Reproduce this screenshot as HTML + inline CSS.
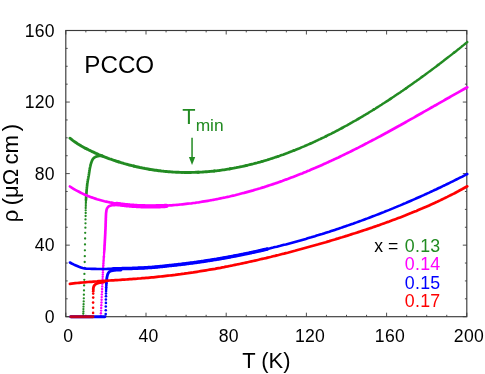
<!DOCTYPE html>
<html><head><meta charset="utf-8"><title>PCCO resistivity</title>
<style>html,body{margin:0;padding:0;background:#fff;}body{width:485px;height:374px;overflow:hidden;position:relative;font-family:"Liberation Sans",sans-serif;}</style></head>
<body>
<svg width="485" height="374" viewBox="0 0 485 374" style="position:absolute;left:0;top:0;will-change:transform">
<rect width="485" height="374" fill="#fff"/>
<rect x="65.8" y="30.5" width="401.0" height="286.2" fill="none" stroke="#3a3a3a" stroke-width="1.15"/>
<path d="M65.80,316.7 v-4.0 M65.80,30.5 v4.0 M85.85,316.7 v-1.9 M85.85,30.5 v1.9 M105.90,316.7 v-1.9 M105.90,30.5 v1.9 M125.95,316.7 v-1.9 M125.95,30.5 v1.9 M146.00,316.7 v-4.0 M146.00,30.5 v4.0 M166.05,316.7 v-1.9 M166.05,30.5 v1.9 M186.10,316.7 v-1.9 M186.10,30.5 v1.9 M206.15,316.7 v-1.9 M206.15,30.5 v1.9 M226.20,316.7 v-4.0 M226.20,30.5 v4.0 M246.25,316.7 v-1.9 M246.25,30.5 v1.9 M266.30,316.7 v-1.9 M266.30,30.5 v1.9 M286.35,316.7 v-1.9 M286.35,30.5 v1.9 M306.40,316.7 v-4.0 M306.40,30.5 v4.0 M326.45,316.7 v-1.9 M326.45,30.5 v1.9 M346.50,316.7 v-1.9 M346.50,30.5 v1.9 M366.55,316.7 v-1.9 M366.55,30.5 v1.9 M386.60,316.7 v-4.0 M386.60,30.5 v4.0 M406.65,316.7 v-1.9 M406.65,30.5 v1.9 M426.70,316.7 v-1.9 M426.70,30.5 v1.9 M446.75,316.7 v-1.9 M446.75,30.5 v1.9 M466.80,316.7 v-4.0 M466.80,30.5 v4.0 M65.8,316.70 h4.0 M466.8,316.70 h-4.0 M65.8,298.81 h1.9 M466.8,298.81 h-1.9 M65.8,280.93 h1.9 M466.8,280.93 h-1.9 M65.8,263.04 h1.9 M466.8,263.04 h-1.9 M65.8,245.15 h4.0 M466.8,245.15 h-4.0 M65.8,227.26 h1.9 M466.8,227.26 h-1.9 M65.8,209.38 h1.9 M466.8,209.38 h-1.9 M65.8,191.49 h1.9 M466.8,191.49 h-1.9 M65.8,173.60 h4.0 M466.8,173.60 h-4.0 M65.8,155.71 h1.9 M466.8,155.71 h-1.9 M65.8,137.82 h1.9 M466.8,137.82 h-1.9 M65.8,119.94 h1.9 M466.8,119.94 h-1.9 M65.8,102.05 h4.0 M466.8,102.05 h-4.0 M65.8,84.16 h1.9 M466.8,84.16 h-1.9 M65.8,66.27 h1.9 M466.8,66.27 h-1.9 M65.8,48.39 h1.9 M466.8,48.39 h-1.9 M65.8,30.50 h4.0 M466.8,30.50 h-4.0" fill="none" stroke="#3a3a3a" stroke-width="0.9"/>
<path d="M69.9,138.2 L71.2,139.2 L72.4,140.2 L73.7,141.1 L75.0,142.0 L76.2,142.8 L77.5,143.7 L78.8,144.4 L80.1,145.2 L81.3,146.0 L82.6,146.7 L83.9,147.4 L85.1,148.1 L86.4,148.7" fill="none" stroke="#228B22" stroke-width="2.91" stroke-linecap="round"/>
<path d="M85.9,148.5 L87.2,149.1 L88.4,149.8 L89.7,150.4 L91.0,151.0 L92.2,151.6 L93.5,152.2 L94.8,152.8 L96.1,153.4 L97.3,153.9 L98.6,154.5 L99.9,155.0 L101.1,155.5 L102.4,156.0" fill="none" stroke="#228B22" stroke-width="2.92" stroke-linecap="round"/>
<path d="M101.9,155.8 L103.2,156.3 L104.4,156.8 L105.7,157.3 L107.0,157.8 L108.2,158.3 L109.5,158.8 L110.8,159.2 L112.1,159.7 L113.3,160.1 L114.6,160.5 L115.9,161.0 L117.1,161.4 L118.4,161.8" fill="none" stroke="#228B22" stroke-width="2.93" stroke-linecap="round"/>
<path d="M117.9,161.6 L119.2,162.0 L120.4,162.4 L121.7,162.8 L123.0,163.2 L124.2,163.6 L125.5,163.9 L126.8,164.3 L128.1,164.6 L129.3,165.0 L130.6,165.3 L131.9,165.6 L133.1,165.9 L134.4,166.2" fill="none" stroke="#228B22" stroke-width="2.94" stroke-linecap="round"/>
<path d="M133.9,166.1 L135.2,166.4 L136.4,166.7 L137.7,167.0 L139.0,167.3 L140.2,167.6 L141.5,167.8 L142.8,168.1 L144.1,168.3 L145.3,168.6 L146.6,168.8 L147.9,169.0 L149.1,169.2 L150.4,169.5" fill="none" stroke="#228B22" stroke-width="2.95" stroke-linecap="round"/>
<path d="M149.9,169.4 L151.2,169.6 L152.4,169.8 L153.7,170.0 L155.0,170.2 L156.2,170.3 L157.5,170.5 L158.8,170.7 L160.1,170.8 L161.3,171.0 L162.6,171.1 L163.9,171.3 L165.1,171.4 L166.4,171.5" fill="none" stroke="#228B22" stroke-width="2.94" stroke-linecap="round"/>
<path d="M165.9,171.5 L167.2,171.6 L168.4,171.7 L169.7,171.8 L171.0,171.9 L172.2,172.0 L173.5,172.1 L174.8,172.1 L176.1,172.2 L177.3,172.3 L178.6,172.3 L179.9,172.4 L181.1,172.4 L182.4,172.4" fill="none" stroke="#228B22" stroke-width="2.92" stroke-linecap="round"/>
<path d="M181.9,172.4 L183.2,172.4 L184.4,172.5 L185.7,172.5 L187.0,172.5 L188.2,172.5 L189.5,172.5 L190.8,172.5 L192.1,172.4 L193.3,172.4 L194.6,172.4 L195.9,172.3 L197.1,172.3 L198.4,172.2" fill="none" stroke="#228B22" stroke-width="2.91" stroke-linecap="round"/>
<path d="M197.9,172.3 L199.2,172.2 L200.4,172.1 L201.7,172.1 L203.0,172.0 L204.2,171.9 L205.5,171.8 L206.8,171.7 L208.1,171.6 L209.3,171.5 L210.6,171.4 L211.9,171.3 L213.1,171.1 L214.4,171.0" fill="none" stroke="#228B22" stroke-width="2.88" stroke-linecap="round"/>
<path d="M213.9,171.1 L215.2,170.9 L216.4,170.8 L217.7,170.6 L219.0,170.5 L220.2,170.3 L221.5,170.1 L222.8,169.9 L224.1,169.8 L225.3,169.6 L226.6,169.4 L227.9,169.2 L229.1,169.0 L230.4,168.7" fill="none" stroke="#228B22" stroke-width="2.83" stroke-linecap="round"/>
<path d="M229.9,168.8 L231.2,168.6 L232.4,168.4 L233.7,168.2 L235.0,167.9 L236.2,167.7 L237.5,167.4 L238.8,167.2 L240.1,166.9 L241.3,166.6 L242.6,166.4 L243.9,166.1 L245.1,165.8 L246.4,165.5" fill="none" stroke="#228B22" stroke-width="2.79" stroke-linecap="round"/>
<path d="M245.9,165.6 L247.2,165.3 L248.4,165.0 L249.7,164.7 L251.0,164.4 L252.2,164.1 L253.5,163.8 L254.8,163.4 L256.1,163.1 L257.3,162.8 L258.6,162.4 L259.9,162.1 L261.1,161.7 L262.4,161.3" fill="none" stroke="#228B22" stroke-width="2.74" stroke-linecap="round"/>
<path d="M261.9,161.5 L263.2,161.1 L264.4,160.7 L265.7,160.4 L267.0,160.0 L268.2,159.6 L269.5,159.2 L270.8,158.8 L272.1,158.4 L273.3,158.0 L274.6,157.6 L275.9,157.1 L277.1,156.7 L278.4,156.3" fill="none" stroke="#228B22" stroke-width="2.69" stroke-linecap="round"/>
<path d="M277.9,156.4 L279.2,156.0 L280.4,155.6 L281.7,155.1 L283.0,154.7 L284.2,154.2 L285.5,153.7 L286.8,153.3 L288.1,152.8 L289.3,152.3 L290.6,151.8 L291.9,151.3 L293.1,150.8 L294.4,150.3" fill="none" stroke="#228B22" stroke-width="2.64" stroke-linecap="round"/>
<path d="M293.9,150.5 L295.2,150.0 L296.4,149.5 L297.7,149.0 L299.0,148.5 L300.2,148.0 L301.5,147.4 L302.8,146.9 L304.1,146.4 L305.3,145.8 L306.6,145.3 L307.9,144.7 L309.1,144.1 L310.4,143.6" fill="none" stroke="#228B22" stroke-width="2.60" stroke-linecap="round"/>
<path d="M309.9,143.8 L311.2,143.2 L312.4,142.7 L313.7,142.1 L315.0,141.5 L316.2,140.9 L317.5,140.3 L318.8,139.7 L320.1,139.1 L321.3,138.5 L322.6,137.9 L323.9,137.3 L325.1,136.7 L326.4,136.0" fill="none" stroke="#228B22" stroke-width="2.57" stroke-linecap="round"/>
<path d="M325.9,136.3 L327.2,135.7 L328.4,135.0 L329.7,134.4 L331.0,133.8 L332.2,133.1 L333.5,132.5 L334.8,131.8 L336.1,131.1 L337.3,130.5 L338.6,129.8 L339.9,129.1 L341.1,128.5 L342.4,127.8" fill="none" stroke="#228B22" stroke-width="2.55" stroke-linecap="round"/>
<path d="M341.9,128.0 L343.2,127.4 L344.4,126.7 L345.7,126.0 L347.0,125.3 L348.2,124.6 L349.5,123.9 L350.8,123.1 L352.1,122.4 L353.3,121.7 L354.6,121.0 L355.9,120.3 L357.1,119.5 L358.4,118.8" fill="none" stroke="#228B22" stroke-width="2.53" stroke-linecap="round"/>
<path d="M357.9,119.1 L359.2,118.3 L360.4,117.6 L361.7,116.9 L363.0,116.1 L364.2,115.3 L365.5,114.6 L366.8,113.8 L368.1,113.1 L369.3,112.3 L370.6,111.5 L371.9,110.7 L373.1,109.9 L374.4,109.2" fill="none" stroke="#228B22" stroke-width="2.51" stroke-linecap="round"/>
<path d="M373.9,109.5 L375.2,108.7 L376.4,107.9 L377.7,107.1 L379.0,106.3 L380.2,105.5 L381.5,104.7 L382.8,103.8 L384.1,103.0 L385.3,102.2 L386.6,101.4 L387.9,100.6 L389.1,99.7 L390.4,98.9" fill="none" stroke="#228B22" stroke-width="2.48" stroke-linecap="round"/>
<path d="M389.9,99.2 L391.2,98.4 L392.4,97.5 L393.7,96.7 L395.0,95.8 L396.2,95.0 L397.5,94.1 L398.8,93.3 L400.1,92.4 L401.3,91.5 L402.6,90.7 L403.9,89.8 L405.1,88.9 L406.4,88.0" fill="none" stroke="#228B22" stroke-width="2.46" stroke-linecap="round"/>
<path d="M405.9,88.4 L407.2,87.5 L408.4,86.6 L409.7,85.7 L411.0,84.8 L412.2,83.9 L413.5,83.0 L414.8,82.1 L416.1,81.2 L417.3,80.3 L418.6,79.4 L419.9,78.5 L421.1,77.6 L422.4,76.6" fill="none" stroke="#228B22" stroke-width="2.44" stroke-linecap="round"/>
<path d="M421.9,77.0 L423.2,76.1 L424.4,75.2 L425.7,74.2 L427.0,73.3 L428.2,72.4 L429.5,71.4 L430.8,70.5 L432.1,69.5 L433.3,68.6 L434.6,67.6 L435.9,66.7 L437.1,65.7 L438.4,64.7" fill="none" stroke="#228B22" stroke-width="2.41" stroke-linecap="round"/>
<path d="M437.9,65.1 L439.2,64.2 L440.4,63.2 L441.7,62.2 L443.0,61.3 L444.2,60.3 L445.5,59.3 L446.8,58.3 L448.1,57.3 L449.3,56.4 L450.6,55.4 L451.9,54.4 L453.1,53.4 L454.4,52.4" fill="none" stroke="#228B22" stroke-width="2.40" stroke-linecap="round"/>
<path d="M453.9,52.8 L454.9,52.0 L456.0,51.2 L457.0,50.3 L458.0,49.5 L459.1,48.7 L460.1,47.9 L461.1,47.1 L462.1,46.2 L463.2,45.4 L464.2,44.6 L465.2,43.8 L466.3,42.9 L467.3,42.1" fill="none" stroke="#228B22" stroke-width="2.40" stroke-linecap="round"/>
<g fill="#228B22"><circle cx="83.2" cy="315.6" r="1.15"/><circle cx="83.3" cy="313.5" r="1.15"/><circle cx="83.4" cy="311.4" r="1.15"/><circle cx="83.4" cy="309.1" r="1.15"/><circle cx="83.5" cy="306.7" r="1.15"/><circle cx="83.6" cy="304.2" r="1.15"/><circle cx="83.7" cy="301.4" r="1.15"/><circle cx="83.8" cy="298.3" r="1.15"/><circle cx="83.9" cy="294.7" r="1.15"/><circle cx="84.0" cy="290.4" r="1.15"/><circle cx="84.1" cy="285.4" r="1.15"/><circle cx="84.3" cy="279.8" r="1.15"/><circle cx="84.4" cy="273.9" r="1.15"/><circle cx="84.6" cy="268.0" r="1.15"/><circle cx="84.7" cy="262.0" r="1.15"/><circle cx="84.8" cy="256.2" r="1.15"/><circle cx="84.9" cy="250.3" r="1.15"/><circle cx="85.0" cy="244.4" r="1.15"/><circle cx="85.1" cy="238.5" r="1.15"/><circle cx="85.2" cy="232.8" r="1.15"/><circle cx="85.4" cy="227.7" r="1.15"/><circle cx="85.5" cy="223.3" r="1.15"/><circle cx="85.5" cy="219.4" r="1.15"/><circle cx="85.6" cy="216.0" r="1.15"/><circle cx="85.7" cy="213.0" r="1.15"/><circle cx="85.7" cy="210.3" r="1.15"/><circle cx="85.7" cy="208.0" r="1.15"/><circle cx="85.8" cy="205.9" r="1.15"/><circle cx="85.8" cy="204.1" r="1.15"/><circle cx="85.9" cy="202.5" r="1.15"/><circle cx="85.9" cy="201.1" r="1.15"/></g><path d="M86.0,199.9 L86.0,199.2 L86.1,198.6 L86.1,197.9 L86.1,197.2 L86.2,196.5 L86.2,195.9 L86.3,195.2 L86.3,194.5 L86.4,193.8 L86.4,193.2 L86.5,192.5 L86.5,191.8 L86.6,191.2 L86.6,190.5 L86.7,189.8 L86.7,189.1 L86.8,188.5 L86.9,187.8 L86.9,187.1 L87.0,186.5 L87.1,185.8 L87.2,185.1 L87.2,184.5 L87.3,183.8 L87.4,183.1 L87.5,182.5 L87.6,181.8 L87.7,181.1 L87.8,180.5 L87.9,179.8 L88.1,179.1 L88.2,178.5 L88.3,177.8 L88.4,177.2 L88.5,176.5 L88.7,175.8 L88.8,175.2 L88.9,174.5 L89.0,173.8 L89.1,173.2 L89.2,172.5 L89.3,171.8 L89.4,171.2 L89.5,170.5 L89.6,169.8 L89.7,169.2 L89.8,168.5 L90.0,167.9 L90.1,167.2 L90.3,166.5 L90.4,165.9 L90.6,165.2 L90.7,164.6 L90.9,163.9 L91.1,163.3 L91.3,162.6 L91.5,162.0 L91.8,161.4 L92.0,160.7 L92.3,160.1 L92.7,159.5 L93.0,158.9 L93.4,158.4 L93.9,158.0 L94.4,157.5 L95.0,157.2 L95.6,156.8 L96.2,156.6 L96.9,156.4 L97.5,156.2 L98.2,156.1 L98.9,156.0 L99.5,155.9 L100.2,155.9 L100.9,155.9 L101.5,155.9 L102.2,156.0 L102.5,156.0" fill="none" stroke="#228B22" stroke-width="2.7" stroke-linecap="round" stroke-linejoin="round"/>
<path d="M69.9,186.5 L71.7,187.7 L73.5,188.8 L75.3,189.9 L77.2,190.9 L79.0,191.8 L80.8,192.8 L82.6,193.6 L84.4,194.5 L86.2,195.2 L88.0,196.0 L89.9,196.7 L91.7,197.4 L93.5,198.0 L95.3,198.6 L97.1,199.2 L98.9,199.7 L100.7,200.2 L102.6,200.7 L104.4,201.2 L106.2,201.6 L108.0,202.0 L109.8,202.4 L111.6,202.7 L113.5,203.1 L115.3,203.4 L117.1,203.7 L118.9,203.9 L120.7,204.2 L122.5,204.4 L124.3,204.6 L126.2,204.8 L128.0,205.0 L129.8,205.2 L131.6,205.3 L133.4,205.4 L135.2,205.6 L137.0,205.7 L138.9,205.8 L140.7,205.8 L142.5,205.9 L144.3,205.9 L146.1,206.0 L147.9,206.0 L149.7,206.0 L151.6,206.0 L153.4,206.0 L155.2,206.0 L157.0,205.9 L158.8,205.9 L160.6,205.8 L162.4,205.8 L164.3,205.7 L166.1,205.6 L167.9,205.5 L169.7,205.4 L171.5,205.3 L173.3,205.1 L175.1,205.0 L177.0,204.8 L178.8,204.7 L180.6,204.5 L182.4,204.3 L184.2,204.1 L186.0,203.9 L187.8,203.7 L189.7,203.5 L191.5,203.3 L193.3,203.0 L195.1,202.8 L196.9,202.5 L198.7,202.3 L200.6,202.0 L202.4,201.7 L204.2,201.4 L206.0,201.1 L207.8,200.8 L209.6,200.5 L211.4,200.2 L213.3,199.8 L215.1,199.5 L216.9,199.2 L218.7,198.8 L220.5,198.4 L222.3,198.0 L224.1,197.7 L226.0,197.3 L227.8,196.9 L229.6,196.5 L231.4,196.0 L233.2,195.6 L235.0,195.2 L236.8,194.7 L238.7,194.3 L240.5,193.8 L242.3,193.3 L244.1,192.9 L245.9,192.4 L247.7,191.9 L249.5,191.4 L251.4,190.9 L253.2,190.4 L255.0,189.8 L256.8,189.3 L258.6,188.7 L260.4,188.2 L262.2,187.6 L264.1,187.1 L265.9,186.5 L267.7,185.9 L269.5,185.3 L271.3,184.7 L273.1,184.1 L275.0,183.5 L276.8,182.9 L278.6,182.2 L280.4,181.6 L282.2,181.0 L284.0,180.3 L285.8,179.6 L287.7,179.0 L289.5,178.3 L291.3,177.6 L293.1,176.9 L294.9,176.2 L296.7,175.5 L298.5,174.8 L300.4,174.1 L302.2,173.4 L304.0,172.6 L305.8,171.9 L307.6,171.1 L309.4,170.4 L311.2,169.6 L313.1,168.8 L314.9,168.1 L316.7,167.3 L318.5,166.5 L320.3,165.7 L322.1,164.9 L323.9,164.1 L325.8,163.3 L327.6,162.4 L329.4,161.6 L331.2,160.8 L333.0,159.9 L334.8,159.1 L336.6,158.2 L338.5,157.4 L340.3,156.5 L342.1,155.6 L343.9,154.8 L345.7,153.9 L347.5,153.0 L349.4,152.1 L351.2,151.2 L353.0,150.3 L354.8,149.4 L356.6,148.5 L358.4,147.6 L360.2,146.6 L362.1,145.7 L363.9,144.8 L365.7,143.8 L367.5,142.9 L369.3,141.9 L371.1,141.0 L372.9,140.0 L374.8,139.1 L376.6,138.1 L378.4,137.1 L380.2,136.2 L382.0,135.2 L383.8,134.2 L385.6,133.2 L387.5,132.2 L389.3,131.2 L391.1,130.2 L392.9,129.2 L394.7,128.2 L396.5,127.2 L398.3,126.2 L400.2,125.2 L402.0,124.2 L403.8,123.2 L405.6,122.2 L407.4,121.2 L409.2,120.1 L411.0,119.1 L412.9,118.1 L414.7,117.1 L416.5,116.0 L418.3,115.0 L420.1,114.0 L421.9,113.0 L423.7,111.9 L425.6,110.9 L427.4,109.9 L429.2,108.8 L431.0,107.8 L432.8,106.8 L434.6,105.7 L436.5,104.7 L438.3,103.7 L440.1,102.6 L441.9,101.6 L443.7,100.6 L445.5,99.5 L447.3,98.5 L449.2,97.5 L451.0,96.4 L452.8,95.4 L454.6,94.4 L456.4,93.4 L458.2,92.4 L460.0,91.3 L461.9,90.3 L463.7,89.3 L465.5,88.3 L467.3,87.3" fill="none" stroke="#FF00FF" stroke-width="2.7" stroke-linecap="round"/>
<path d="M116.5,203.6 L116.7,203.6 L117.0,203.6 L117.2,203.7 L117.4,203.7 L117.6,203.7 L117.9,203.8 L118.1,203.8 L118.3,203.8 L118.6,203.9 L118.8,203.9 L119.0,203.9 L119.2,204.0 L119.5,204.0 L119.7,204.0 L119.9,204.1 L120.2,204.1 L120.4,204.1 L120.6,204.2 L120.8,204.2 L121.1,204.2 L121.3,204.3 L121.5,204.3 L121.8,204.3 L122.0,204.3 L122.2,204.4 L122.4,204.4 L122.7,204.4 L122.9,204.5 L123.1,204.5 L123.3,204.5 L123.6,204.5 L123.8,204.6 L124.0,204.6 L124.3,204.6 L124.5,204.6 L124.7,204.7 L124.9,204.7 L125.2,204.7 L125.4,204.7 L125.6,204.8 L125.9,204.8 L126.1,204.8 L126.3,204.8 L126.5,204.9 L126.8,204.9 L127.0,204.9 L127.2,204.9 L127.5,205.0 L127.7,205.0 L127.9,205.0 L128.1,205.0 L128.4,205.0 L128.6,205.1 L128.8,205.1 L129.1,205.1 L129.3,205.1 L129.5,205.1 L129.7,205.2 L130.0,205.2 L130.2,205.2 L130.4,205.2 L130.7,205.2 L130.9,205.3 L131.1,205.3 L131.3,205.3 L131.6,205.3 L131.8,205.3 L132.0,205.3 L132.3,205.4 L132.5,205.4 L132.7,205.4 L132.9,205.4 L133.2,205.4 L133.4,205.4 L133.6,205.5 L133.9,205.5 L134.1,205.5 L134.3,205.5 L134.5,205.5 L134.8,205.5 L135.0,205.6 L135.2,205.6 L135.4,205.6 L135.7,205.6 L135.9,205.6 L136.1,205.6 L136.4,205.6 L136.6,205.6 L136.8,205.7 L137.0,205.7 L137.3,205.7 L137.5,205.7 L137.7,205.7 L138.0,205.7 L138.2,205.7 L138.4,205.7 L138.6,205.8 L138.9,205.8 L139.1,205.8 L139.3,205.8 L139.6,205.8 L139.8,205.8 L140.0,205.8 L140.2,205.8 L140.5,205.8 L140.7,205.8 L140.9,205.8 L141.2,205.9 L141.4,205.9 L141.6,205.9 L141.8,205.9 L142.1,205.9 L142.3,205.9 L142.5,205.9 L142.8,205.9 L143.0,205.9 L143.2,205.9 L143.4,205.9 L143.7,205.9 L143.9,205.9 L144.1,205.9 L144.4,205.9 L144.6,206.0 L144.8,206.0 L145.0,206.0 L145.3,206.0 L145.5,206.0 L145.7,206.0 L146.0,206.0 L146.2,206.0 L146.4,206.0 L146.6,206.0 L146.9,206.0 L147.1,206.0 L147.3,206.0 L147.6,206.0 L147.8,206.0 L148.0,206.0 L148.2,206.0 L148.5,206.0 L148.7,206.0 L148.9,206.0 L149.1,206.0 L149.4,206.0 L149.6,206.0 L149.8,206.0 L150.1,206.0 L150.3,206.0 L150.5,206.0 L150.7,206.0 L151.0,206.0 L151.2,206.0 L151.4,206.0 L151.7,206.0 L151.9,206.0 L152.1,206.0 L152.3,206.0 L152.6,206.0 L152.8,206.0 L153.0,206.0 L153.3,206.0 L153.5,206.0 L153.7,206.0 L153.9,206.0 L154.2,206.0 L154.4,206.0 L154.6,206.0 L154.9,206.0 L155.1,206.0 L155.3,206.0 L155.5,206.0 L155.8,206.0 L156.0,206.0 L156.2,206.0 L156.5,205.9 L156.7,205.9 L156.9,205.9 L157.1,205.9 L157.4,205.9 L157.6,205.9 L157.8,205.9 L158.1,205.9 L158.3,205.9 L158.5,205.9 L158.7,205.9 L159.0,205.9 L159.2,205.9 L159.4,205.9 L159.7,205.9 L159.9,205.9 L160.1,205.8 L160.3,205.8 L160.6,205.8 L160.8,205.8 L161.0,205.8 L161.2,205.8 L161.5,205.8 L161.7,205.8 L161.9,205.8 L162.2,205.8 L162.4,205.8 L162.6,205.8 L162.8,205.7 L163.1,205.7 L163.3,205.7 L163.5,205.7 L163.8,205.7 L164.0,205.7 L164.2,205.7 L164.4,205.7 L164.7,205.7 L164.9,205.6 L165.1,205.6 L165.4,205.6 L165.6,205.6 L165.8,205.6 L166.0,205.6 L166.3,205.6 L166.5,205.6" fill="none" stroke="#FF00FF" stroke-width="4.3" stroke-linecap="round" transform="translate(0,0.35)"/>
<g fill="#FF00FF"><circle cx="100.8" cy="316.0" r="1.2"/><circle cx="100.9" cy="313.3" r="1.2"/><circle cx="101.1" cy="310.6" r="1.2"/><circle cx="101.2" cy="307.9" r="1.2"/><circle cx="101.3" cy="305.2" r="1.2"/><circle cx="101.5" cy="302.5" r="1.2"/><circle cx="101.6" cy="299.8" r="1.2"/><circle cx="101.7" cy="297.1" r="1.2"/><circle cx="101.8" cy="294.4" r="1.2"/><circle cx="102.0" cy="291.7" r="1.2"/><circle cx="102.1" cy="289.0" r="1.2"/><circle cx="102.2" cy="286.4" r="1.2"/><circle cx="102.3" cy="283.8" r="1.2"/><circle cx="102.4" cy="281.4" r="1.2"/><circle cx="102.6" cy="279.1" r="1.2"/><circle cx="102.7" cy="276.8" r="1.2"/><circle cx="102.8" cy="274.6" r="1.2"/><circle cx="102.9" cy="272.6" r="1.2"/><circle cx="103.0" cy="270.6" r="1.2"/><circle cx="103.1" cy="268.8" r="1.2"/><circle cx="103.2" cy="266.9" r="1.2"/><circle cx="103.3" cy="265.2" r="1.2"/><circle cx="103.4" cy="263.6" r="1.2"/><circle cx="103.5" cy="262.0" r="1.2"/><circle cx="103.6" cy="260.5" r="1.2"/><circle cx="103.7" cy="259.0" r="1.2"/><circle cx="103.8" cy="257.6" r="1.2"/><circle cx="103.9" cy="256.3" r="1.2"/><circle cx="104.0" cy="255.0" r="1.2"/><circle cx="104.1" cy="253.8" r="1.2"/><circle cx="104.1" cy="252.6" r="1.2"/><circle cx="104.2" cy="251.5" r="1.2"/><circle cx="104.3" cy="250.4" r="1.2"/><circle cx="104.4" cy="249.3" r="1.2"/><circle cx="104.4" cy="248.4" r="1.2"/><circle cx="104.5" cy="247.4" r="1.2"/><circle cx="104.5" cy="246.5" r="1.2"/><circle cx="104.6" cy="245.6" r="1.2"/></g><path d="M104.6,244.8 L104.7,244.3 L104.7,243.8 L104.7,243.4 L104.7,242.9 L104.8,242.4 L104.8,241.9 L104.8,241.5 L104.8,241.0 L104.9,240.5 L104.9,240.0 L104.9,239.6 L105.0,239.1 L105.0,238.6 L105.0,238.1 L105.0,237.6 L105.1,237.2 L105.1,236.7 L105.1,236.2 L105.1,235.7 L105.2,235.3 L105.2,234.8 L105.2,234.3 L105.2,233.8 L105.3,233.4 L105.3,232.9 L105.3,232.4 L105.3,231.9 L105.3,231.4 L105.4,231.0 L105.4,230.5 L105.4,230.0 L105.4,229.5 L105.5,229.1 L105.5,228.6 L105.5,228.1 L105.5,227.6 L105.5,227.1 L105.6,226.7 L105.6,226.2 L105.6,225.7 L105.6,225.2 L105.6,224.8 L105.6,224.3 L105.6,223.8 L105.7,223.3 L105.7,222.9 L105.7,222.4 L105.7,221.9 L105.7,221.4 L105.7,220.9 L105.8,220.5 L105.8,220.0 L105.8,219.5 L105.8,219.0 L105.8,218.6 L105.8,218.1 L105.9,217.6 L105.9,217.1 L105.9,216.6 L105.9,216.2 L105.9,215.7 L106.0,215.2 L106.0,214.7 L106.0,214.3 L106.0,213.8 L106.1,213.3 L106.1,212.8 L106.2,212.4 L106.2,211.9 L106.3,211.4 L106.4,210.9 L106.4,210.5 L106.5,210.0 L106.7,209.5 L106.8,209.1 L107.0,208.6 L107.2,208.2 L107.5,207.8 L107.7,207.4 L108.0,207.1 L108.4,206.7 L108.8,206.4 L109.2,206.1 L109.6,205.9 L110.1,205.7 L110.5,205.6 L111.0,205.5 L111.4,205.4 L111.9,205.3 L112.4,205.2 L112.9,205.2 L113.4,205.1 L113.8,205.1 L114.3,205.1 L114.8,205.1 L115.3,205.0 L115.7,205.0 L116.2,205.0 L116.7,205.0 L117.2,205.0 L117.5,205.0" fill="none" stroke="#FF00FF" stroke-width="2.7" stroke-linecap="round" stroke-linejoin="round"/>
<path d="M69.9,262.5 L71.7,263.5 L73.5,264.4 L75.3,265.2 L77.2,266.0 L79.0,266.8 L80.8,267.4 L82.6,268.0 L84.4,268.4 L86.2,268.6 L88.0,268.7 L89.9,268.8 L91.7,268.9 L93.5,268.9 L95.3,268.9 L97.1,269.0 L98.9,269.0 L100.7,269.0 L102.6,269.0 L104.4,269.0 L106.2,269.0 L108.0,268.9 L109.8,268.9 L111.6,268.9 L113.5,268.8 L115.3,268.8 L117.1,268.8 L118.9,268.7 L120.7,268.7 L122.5,268.6 L124.3,268.6 L126.2,268.5 L128.0,268.5 L129.8,268.4 L131.6,268.4 L133.4,268.3 L135.2,268.2 L137.0,268.2 L138.9,268.1 L140.7,268.0 L142.5,268.0 L144.3,267.9 L146.1,267.8 L147.9,267.7 L149.7,267.5 L151.6,267.4 L153.4,267.3 L155.2,267.1 L157.0,266.9 L158.8,266.8 L160.6,266.6 L162.4,266.4 L164.3,266.2 L166.1,266.0 L167.9,265.8 L169.7,265.6 L171.5,265.4 L173.3,265.2 L175.1,265.0 L177.0,264.8 L178.8,264.6 L180.6,264.4 L182.4,264.2 L184.2,263.9 L186.0,263.7 L187.8,263.5 L189.7,263.2 L191.5,263.0 L193.3,262.8 L195.1,262.5 L196.9,262.3 L198.7,262.0 L200.6,261.7 L202.4,261.5 L204.2,261.2 L206.0,260.9 L207.8,260.7 L209.6,260.4 L211.4,260.1 L213.3,259.8 L215.1,259.5 L216.9,259.2 L218.7,258.9 L220.5,258.6 L222.3,258.3 L224.1,257.9 L226.0,257.6 L227.8,257.3 L229.6,256.9 L231.4,256.6 L233.2,256.3 L235.0,255.9 L236.8,255.6 L238.7,255.2 L240.5,254.9 L242.3,254.5 L244.1,254.1 L245.9,253.7 L247.7,253.4 L249.5,253.0 L251.4,252.6 L253.2,252.2 L255.0,251.8 L256.8,251.4 L258.6,251.0 L260.4,250.6 L262.2,250.2 L264.1,249.8 L265.9,249.3 L267.7,248.9 L269.5,248.5 L271.3,248.0 L273.1,247.6 L275.0,247.1 L276.8,246.7 L278.6,246.2 L280.4,245.8 L282.2,245.3 L284.0,244.8 L285.8,244.4 L287.7,243.9 L289.5,243.4 L291.3,242.9 L293.1,242.4 L294.9,241.9 L296.7,241.4 L298.5,240.9 L300.4,240.4 L302.2,239.9 L304.0,239.4 L305.8,238.9 L307.6,238.3 L309.4,237.8 L311.2,237.3 L313.1,236.7 L314.9,236.2 L316.7,235.6 L318.5,235.1 L320.3,234.5 L322.1,234.0 L323.9,233.4 L325.8,232.8 L327.6,232.2 L329.4,231.7 L331.2,231.1 L333.0,230.5 L334.8,229.9 L336.6,229.3 L338.5,228.7 L340.3,228.1 L342.1,227.4 L343.9,226.8 L345.7,226.2 L347.5,225.6 L349.4,224.9 L351.2,224.3 L353.0,223.7 L354.8,223.0 L356.6,222.4 L358.4,221.7 L360.2,221.1 L362.1,220.4 L363.9,219.7 L365.7,219.0 L367.5,218.4 L369.3,217.7 L371.1,217.0 L372.9,216.3 L374.8,215.6 L376.6,214.9 L378.4,214.2 L380.2,213.5 L382.0,212.8 L383.8,212.1 L385.6,211.3 L387.5,210.6 L389.3,209.9 L391.1,209.1 L392.9,208.4 L394.7,207.6 L396.5,206.9 L398.3,206.1 L400.2,205.4 L402.0,204.6 L403.8,203.8 L405.6,203.1 L407.4,202.3 L409.2,201.5 L411.0,200.7 L412.9,199.9 L414.7,199.1 L416.5,198.3 L418.3,197.5 L420.1,196.7 L421.9,195.9 L423.7,195.1 L425.6,194.2 L427.4,193.4 L429.2,192.6 L431.0,191.7 L432.8,190.9 L434.6,190.0 L436.5,189.2 L438.3,188.3 L440.1,187.5 L441.9,186.6 L443.7,185.7 L445.5,184.9 L447.3,184.0 L449.2,183.1 L451.0,182.2 L452.8,181.3 L454.6,180.4 L456.4,179.5 L458.2,178.6 L460.0,177.7 L461.9,176.8 L463.7,175.8 L465.5,174.9 L467.3,174.0" fill="none" stroke="#0000FF" stroke-width="2.6" stroke-linecap="round"/>
<path d="M113.0,268.9 L113.7,268.8 L114.4,268.8 L115.1,268.8 L115.8,268.8 L116.5,268.8 L117.2,268.8 L117.9,268.7 L118.6,268.7 L119.3,268.7 L120.0,268.7 L120.7,268.7 L121.4,268.7 L122.2,268.6 L122.9,268.6 L123.6,268.6 L124.3,268.6 L125.0,268.6 L125.7,268.5 L126.4,268.5 L127.1,268.5 L127.8,268.5 L128.5,268.5 L129.2,268.4 L129.9,268.4 L130.6,268.4 L131.3,268.4 L132.0,268.4 L132.7,268.3 L133.4,268.3 L134.1,268.3 L134.8,268.3 L135.5,268.2 L136.2,268.2 L136.9,268.2 L137.6,268.2 L138.3,268.1 L139.1,268.1 L139.8,268.1 L140.5,268.0 L141.2,268.0 L141.9,268.0 L142.6,267.9 L143.3,267.9 L144.0,267.9 L144.7,267.8 L145.4,267.8 L146.1,267.8 L146.8,267.7 L147.5,267.7 L148.2,267.6 L148.9,267.6 L149.6,267.5 L150.3,267.5 L151.0,267.4 L151.7,267.4 L152.4,267.3 L153.1,267.3 L153.8,267.2 L154.5,267.2 L155.2,267.1 L156.0,267.0 L156.7,267.0 L157.4,266.9 L158.1,266.8 L158.8,266.8 L159.5,266.7 L160.2,266.6 L160.9,266.5 L161.6,266.5 L162.3,266.4 L163.0,266.3 L163.7,266.2 L164.4,266.2 L165.1,266.1 L165.8,266.0 L166.5,265.9 L167.2,265.8 L167.9,265.8 L168.6,265.7 L169.3,265.6 L170.0,265.6 L170.7,265.5 L171.4,265.4 L172.1,265.3 L172.8,265.3 L173.6,265.2 L174.3,265.1 L175.0,265.0 L175.7,264.9 L176.4,264.9 L177.1,264.8 L177.8,264.7 L178.5,264.6 L179.2,264.5 L179.9,264.5 L180.6,264.4 L181.3,264.3 L182.0,264.2 L182.7,264.1 L183.4,264.0 L184.1,264.0 L184.8,263.9 L185.5,263.8 L186.2,263.7 L186.9,263.6 L187.6,263.5 L188.3,263.4 L189.0,263.3 L189.7,263.2 L190.5,263.1 L191.2,263.1 L191.9,263.0 L192.6,262.9 L193.3,262.8 L194.0,262.7 L194.7,262.6 L195.4,262.5 L196.1,262.4 L196.8,262.3 L197.5,262.2 L198.2,262.1 L198.9,262.0 L199.6,261.9 L200.3,261.8 L201.0,261.7 L201.7,261.6 L202.4,261.5 L203.1,261.4 L203.8,261.3 L204.5,261.2 L205.2,261.0 L205.9,260.9 L206.6,260.8 L207.4,260.7 L208.1,260.6 L208.8,260.5 L209.5,260.4 L210.2,260.3 L210.9,260.2 L211.6,260.1 L212.3,259.9 L213.0,259.8 L213.7,259.7 L214.4,259.6 L215.1,259.5 L215.8,259.4 L216.5,259.3 L217.2,259.1 L217.9,259.0 L218.6,258.9 L219.3,258.8 L220.0,258.7 L220.7,258.5 L221.4,258.4 L222.1,258.3 L222.8,258.2 L223.5,258.0 L224.2,257.9 L225.0,257.8 L225.7,257.7 L226.4,257.5 L227.1,257.4 L227.8,257.3 L228.5,257.2 L229.2,257.0 L229.9,256.9 L230.6,256.8 L231.3,256.6 L232.0,256.5 L232.7,256.4 L233.4,256.2 L234.1,256.1 L234.8,256.0 L235.5,255.8 L236.2,255.7 L236.9,255.6 L237.6,255.4 L238.3,255.3 L239.0,255.1 L239.7,255.0 L240.4,254.9 L241.1,254.7 L241.9,254.6 L242.6,254.4 L243.3,254.3 L244.0,254.1 L244.7,254.0 L245.4,253.9 L246.1,253.7 L246.8,253.6 L247.5,253.4 L248.2,253.3 L248.9,253.1 L249.6,253.0 L250.3,252.8 L251.0,252.7 L251.7,252.5 L252.4,252.4 L253.1,252.2 L253.8,252.1 L254.5,251.9 L255.2,251.8 L255.9,251.6 L256.6,251.4 L257.3,251.3 L258.0,251.1 L258.8,251.0 L259.5,250.8 L260.2,250.7 L260.9,250.5 L261.6,250.3 L262.3,250.2 L263.0,250.0 L263.7,249.8 L264.4,249.7 L265.1,249.5 L265.8,249.4 L266.5,249.2 L267.2,249.0" fill="none" stroke="#0000FF" stroke-width="3.5" stroke-linecap="round"/>
<g fill="#0000FF"><circle cx="105.7" cy="314.0" r="1.3"/><circle cx="105.8" cy="310.2" r="1.3"/><circle cx="105.8" cy="306.5" r="1.3"/><circle cx="105.9" cy="302.9" r="1.3"/><circle cx="105.9" cy="299.5" r="1.3"/><circle cx="106.0" cy="296.3" r="1.3"/><circle cx="106.0" cy="293.5" r="1.3"/><circle cx="106.1" cy="291.1" r="1.3"/><circle cx="106.2" cy="289.0" r="1.3"/><circle cx="106.2" cy="287.2" r="1.3"/><circle cx="106.3" cy="285.7" r="1.3"/><circle cx="106.3" cy="284.4" r="1.3"/><circle cx="106.4" cy="283.3" r="1.3"/></g><path d="M106.4,282.3 L106.4,282.1 L106.4,281.8 L106.5,281.6 L106.5,281.4 L106.5,281.2 L106.5,280.9 L106.5,280.7 L106.5,280.5 L106.6,280.2 L106.6,280.0 L106.6,279.8 L106.6,279.6 L106.7,279.3 L106.7,279.1 L106.7,278.9 L106.7,278.6 L106.8,278.4 L106.8,278.2 L106.9,278.0 L106.9,277.7 L106.9,277.5 L107.0,277.3 L107.0,277.0 L107.1,276.8 L107.1,276.6 L107.2,276.4 L107.2,276.2 L107.3,275.9 L107.3,275.7 L107.4,275.5 L107.4,275.3 L107.5,275.1 L107.5,274.9 L107.6,274.7 L107.7,274.5 L107.8,274.2 L107.8,274.0 L107.9,273.8 L108.0,273.6 L108.2,273.4 L108.3,273.1 L108.4,272.9 L108.5,272.7 L108.7,272.5 L108.8,272.3 L109.0,272.1 L109.1,272.0 L109.3,271.8 L109.4,271.7 L109.6,271.6 L109.7,271.5 L109.9,271.4 L110.1,271.4 L110.3,271.3 L110.5,271.2 L110.7,271.1 L110.9,271.1 L111.1,271.0 L111.3,270.9 L111.5,270.9 L111.8,270.8 L112.0,270.7 L112.2,270.7 L112.5,270.6 L112.7,270.6 L113.0,270.5 L113.2,270.5 L113.4,270.5 L113.7,270.4 L113.9,270.4 L114.2,270.4 L114.4,270.3 L114.6,270.3 L114.8,270.3 L115.1,270.3 L115.3,270.3 L115.5,270.2 L115.7,270.2 L116.0,270.2 L116.2,270.2 L116.4,270.2 L116.6,270.2 L116.9,270.1 L117.1,270.1 L117.3,270.1 L117.5,270.1 L117.8,270.1 L118.0,270.1 L118.2,270.1 L118.4,270.1 L118.7,270.0 L118.9,270.0 L119.1,270.0 L119.4,270.0 L119.6,270.0 L119.8,270.0 L120.0,270.0 L120.3,270.0 L120.5,270.0 L120.7,270.0 L121.0,270.0 L121.0,270.0" fill="none" stroke="#0000FF" stroke-width="2.8" stroke-linecap="round" stroke-linejoin="round"/>
<path d="M70.8,316.8 L104.9,316.8" fill="none" stroke="#0000FF" stroke-width="2.9" stroke-linecap="round"/>
<path d="M69.9,283.8 L71.7,283.6 L73.5,283.4 L75.3,283.2 L77.2,283.0 L79.0,282.8 L80.8,282.6 L82.6,282.5 L84.4,282.3 L86.2,282.2 L88.0,282.0 L89.9,281.9 L91.7,281.8 L93.5,281.6 L95.3,281.5 L97.1,281.4 L98.9,281.2 L100.7,281.1 L102.6,281.0 L104.4,280.9 L106.2,280.8 L108.0,280.7 L109.8,280.5 L111.6,280.4 L113.5,280.3 L115.3,280.2 L117.1,280.1 L118.9,280.0 L120.7,279.8 L122.5,279.7 L124.3,279.6 L126.2,279.5 L128.0,279.3 L129.8,279.2 L131.6,279.1 L133.4,278.9 L135.2,278.8 L137.0,278.7 L138.9,278.5 L140.7,278.4 L142.5,278.2 L144.3,278.1 L146.1,277.9 L147.9,277.8 L149.7,277.6 L151.6,277.4 L153.4,277.3 L155.2,277.1 L157.0,276.9 L158.8,276.7 L160.6,276.5 L162.4,276.3 L164.3,276.1 L166.1,275.9 L167.9,275.7 L169.7,275.5 L171.5,275.3 L173.3,275.1 L175.1,274.9 L177.0,274.6 L178.8,274.4 L180.6,274.2 L182.4,273.9 L184.2,273.7 L186.0,273.4 L187.8,273.2 L189.7,272.9 L191.5,272.6 L193.3,272.4 L195.1,272.1 L196.9,271.8 L198.7,271.5 L200.6,271.2 L202.4,270.9 L204.2,270.6 L206.0,270.3 L207.8,270.0 L209.6,269.7 L211.4,269.4 L213.3,269.1 L215.1,268.8 L216.9,268.4 L218.7,268.1 L220.5,267.8 L222.3,267.4 L224.1,267.1 L226.0,266.7 L227.8,266.4 L229.6,266.0 L231.4,265.7 L233.2,265.3 L235.0,264.9 L236.8,264.5 L238.7,264.2 L240.5,263.8 L242.3,263.4 L244.1,263.0 L245.9,262.6 L247.7,262.2 L249.5,261.8 L251.4,261.4 L253.2,261.0 L255.0,260.6 L256.8,260.2 L258.6,259.8 L260.4,259.3 L262.2,258.9 L264.1,258.5 L265.9,258.1 L267.7,257.6 L269.5,257.2 L271.3,256.8 L273.1,256.3 L275.0,255.9 L276.8,255.4 L278.6,255.0 L280.4,254.5 L282.2,254.0 L284.0,253.6 L285.8,253.1 L287.7,252.7 L289.5,252.2 L291.3,251.7 L293.1,251.2 L294.9,250.8 L296.7,250.3 L298.5,249.8 L300.4,249.3 L302.2,248.8 L304.0,248.3 L305.8,247.8 L307.6,247.3 L309.4,246.8 L311.2,246.3 L313.1,245.8 L314.9,245.3 L316.7,244.8 L318.5,244.3 L320.3,243.7 L322.1,243.2 L323.9,242.7 L325.8,242.2 L327.6,241.6 L329.4,241.1 L331.2,240.5 L333.0,240.0 L334.8,239.5 L336.6,238.9 L338.5,238.4 L340.3,237.8 L342.1,237.3 L343.9,236.7 L345.7,236.1 L347.5,235.6 L349.4,235.0 L351.2,234.4 L353.0,233.8 L354.8,233.3 L356.6,232.7 L358.4,232.1 L360.2,231.5 L362.1,230.9 L363.9,230.3 L365.7,229.7 L367.5,229.1 L369.3,228.5 L371.1,227.9 L372.9,227.2 L374.8,226.6 L376.6,226.0 L378.4,225.4 L380.2,224.7 L382.0,224.1 L383.8,223.4 L385.6,222.8 L387.5,222.1 L389.3,221.5 L391.1,220.8 L392.9,220.1 L394.7,219.4 L396.5,218.8 L398.3,218.1 L400.2,217.4 L402.0,216.7 L403.8,216.0 L405.6,215.3 L407.4,214.5 L409.2,213.8 L411.0,213.1 L412.9,212.3 L414.7,211.6 L416.5,210.9 L418.3,210.1 L420.1,209.3 L421.9,208.6 L423.7,207.8 L425.6,207.0 L427.4,206.2 L429.2,205.4 L431.0,204.6 L432.8,203.7 L434.6,202.9 L436.5,202.1 L438.3,201.2 L440.1,200.4 L441.9,199.5 L443.7,198.6 L445.5,197.7 L447.3,196.9 L449.2,195.9 L451.0,195.0 L452.8,194.1 L454.6,193.2 L456.4,192.2 L458.2,191.3 L460.0,190.3 L461.9,189.3 L463.7,188.3 L465.5,187.3 L467.3,186.3" fill="none" stroke="#FF0000" stroke-width="2.7" stroke-linecap="round"/>
<g fill="#FF0000"><circle cx="93.1" cy="312.9" r="1.3"/><circle cx="93.1" cy="307.7" r="1.3"/><circle cx="93.1" cy="302.6" r="1.3"/><circle cx="93.2" cy="297.6" r="1.3"/><circle cx="93.2" cy="293.6" r="1.3"/><circle cx="93.2" cy="291.3" r="1.3"/></g><path d="M93.3,289.9 L93.3,289.8 L93.3,289.6 L93.3,289.4 L93.3,289.3 L93.3,289.1 L93.3,288.9 L93.3,288.8 L93.3,288.6 L93.3,288.5 L93.4,288.3 L93.4,288.1 L93.4,288.0 L93.4,287.8 L93.5,287.6 L93.5,287.5 L93.5,287.3 L93.6,287.1 L93.6,287.0 L93.7,286.8 L93.7,286.7 L93.8,286.5 L93.8,286.4 L93.9,286.2 L93.9,286.1 L94.0,285.9 L94.1,285.8 L94.2,285.6 L94.3,285.5 L94.4,285.3 L94.5,285.2 L94.6,285.0 L94.7,284.9 L94.8,284.8 L94.9,284.7 L95.0,284.6 L95.1,284.5 L95.3,284.4 L95.4,284.3 L95.5,284.2 L95.7,284.1 L95.8,284.0 L96.0,284.0 L96.1,283.9 L96.3,283.8 L96.4,283.7 L96.6,283.7 L96.7,283.6 L96.9,283.5 L97.1,283.5 L97.2,283.4 L97.4,283.3 L97.5,283.3 L97.7,283.2 L97.8,283.2 L98.0,283.1 L98.1,283.1 L98.3,283.0 L98.5,283.0 L98.6,282.9 L98.8,282.9 L98.9,282.9 L99.1,282.8 L99.3,282.8 L99.4,282.7 L99.6,282.7 L99.7,282.7 L99.9,282.6 L100.1,282.6 L100.2,282.6 L100.4,282.5 L100.6,282.5 L100.7,282.5 L100.9,282.4 L101.0,282.4 L101.2,282.4 L101.4,282.3 L101.5,282.3 L101.7,282.3 L101.9,282.3 L102.0,282.2 L102.2,282.2 L102.3,282.2 L102.5,282.2 L102.7,282.1 L102.8,282.1 L103.0,282.1 L103.2,282.1 L103.3,282.1 L103.5,282.0 L103.7,282.0 L103.8,282.0 L104.0,282.0 L104.0,282.0" fill="none" stroke="#FF0000" stroke-width="2.8" stroke-linecap="round" stroke-linejoin="round"/>
<path d="M70.8,316.8 L93.0,316.8" fill="none" stroke="#C0001E" stroke-width="2.9" stroke-linecap="round"/>
<path d="M192.05,137.8 V160" stroke="#228B22" stroke-width="1.5" fill="none"/>
<path d="M188.9,157 L192.05,165 L195.2,157 Z" fill="#228B22"/>
<text x="54.8" y="322.9" font-family="Liberation Sans, sans-serif" font-size="17.6" letter-spacing="0.25" text-anchor="end" fill="#000">0</text>
<text x="54.8" y="251.3" font-family="Liberation Sans, sans-serif" font-size="17.6" letter-spacing="0.25" text-anchor="end" fill="#000">40</text>
<text x="54.8" y="179.8" font-family="Liberation Sans, sans-serif" font-size="17.6" letter-spacing="0.25" text-anchor="end" fill="#000">80</text>
<text x="54.8" y="108.2" font-family="Liberation Sans, sans-serif" font-size="17.6" letter-spacing="0.25" text-anchor="end" fill="#000">120</text>
<text x="54.8" y="36.7" font-family="Liberation Sans, sans-serif" font-size="17.6" letter-spacing="0.25" text-anchor="end" fill="#000">160</text>
<text x="68.2" y="341.6" font-family="Liberation Sans, sans-serif" font-size="17.6" letter-spacing="0.25" text-anchor="middle" fill="#000">0</text>
<text x="148.6" y="341.6" font-family="Liberation Sans, sans-serif" font-size="17.6" letter-spacing="0.25" text-anchor="middle" fill="#000">40</text>
<text x="228.7" y="341.6" font-family="Liberation Sans, sans-serif" font-size="17.6" letter-spacing="0.25" text-anchor="middle" fill="#000">80</text>
<text x="310.0" y="341.6" font-family="Liberation Sans, sans-serif" font-size="17.6" letter-spacing="0.25" text-anchor="middle" fill="#000">120</text>
<text x="389.9" y="341.6" font-family="Liberation Sans, sans-serif" font-size="17.6" letter-spacing="0.25" text-anchor="middle" fill="#000">160</text>
<text x="468.9" y="341.6" font-family="Liberation Sans, sans-serif" font-size="17.6" letter-spacing="0.25" text-anchor="middle" fill="#000">200</text>
<text x="266.4" y="367.6" font-family="Liberation Sans, sans-serif" font-size="21.9" text-anchor="middle" fill="#000">T (K)</text>
<text transform="translate(18.4,173.1) rotate(-90)" font-family="Liberation Sans, sans-serif" font-size="22.1" text-anchor="middle" fill="#000">ρ <tspan dx="-1.8">(μΩ </tspan><tspan dx="-2.0">cm</tspan><tspan dx="3.8">)</tspan></text>
<text x="84.3" y="72.6" font-family="Liberation Sans, sans-serif" font-size="24.2" fill="#000">PCCO</text>
<text x="182.3" y="124.3" font-family="Liberation Sans, sans-serif" font-size="21.8" fill="#228B22">T<tspan dy="6.8" font-size="17.4">min</tspan></text>
<text x="374.3" y="251.9" font-family="Liberation Sans, sans-serif" font-size="17.6" fill="#000">x =</text>
<text x="404.8" y="251.9" font-family="Liberation Sans, sans-serif" font-size="17.8" letter-spacing="0.25" fill="#228B22">0.13</text>
<text x="404.8" y="270.3" font-family="Liberation Sans, sans-serif" font-size="17.8" letter-spacing="0.25" fill="#FF00FF">0.14</text>
<text x="404.8" y="288.7" font-family="Liberation Sans, sans-serif" font-size="17.8" letter-spacing="0.25" fill="#0000FF">0.15</text>
<text x="404.8" y="307.1" font-family="Liberation Sans, sans-serif" font-size="17.8" letter-spacing="0.25" fill="#FF0000">0.17</text>
</svg>
</body></html>
